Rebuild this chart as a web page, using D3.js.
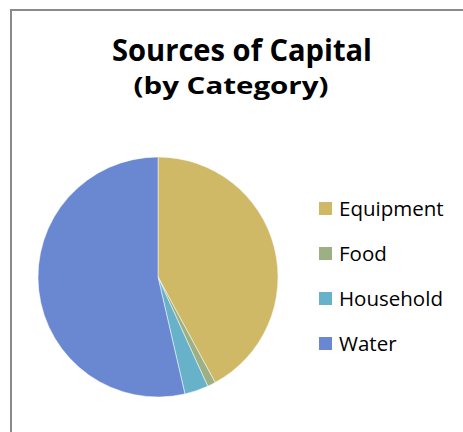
<!DOCTYPE html>
<html>
<head>
<meta charset="utf-8">
<script src="https://cdn.jsdelivr.net/npm/d3@7"></script>
<style>
  body { margin: 0; background: #fff; }
  svg { display: block; }
  text { font-family: "Open Sans", Lato, sans-serif; }
</style>
</head>
<body>
<svg width="463" height="432"></svg>
<script>
// data (percent of total)
var categories = ["Equipment", "Food", "Household", "Water"];
var values = [42.1, 1.1, 3.2, 53.6];
var colors = ["#CFB966", "#9DB083", "#67B2C9", "#6A88D1"];

var svg = d3.select("svg"),
  width = +svg.attr("width"),
  height = +svg.attr("height");

// chart border (only left and top show inside the window)
svg.append("path")
  .attr("d", "M11," + (height + 5) + "V10H" + (width + 5))
  .attr("fill", "none")
  .attr("stroke", "#8a8a8a")
  .attr("stroke-width", 2);

// squeeze/stretch a label to the width it has in the reference
function fitWidth(sel, targetW) {
  sel.attr("textLength", targetW).attr("lengthAdjust", "spacingAndGlyphs");
}

var title = svg.append("text")
  .attr("x", 242).attr("y", 61)
  .attr("text-anchor", "middle")
  .attr("font-weight", "bold")
  .attr("font-size", 30)
  .text("Sources of Capital");
fitWidth(title, 260);

var sub = svg.append("text")
  .attr("x", 231).attr("y", 94)
  .attr("text-anchor", "middle")
  .attr("font-weight", "bold")
  .attr("font-size", 23.5)
  .text("(by Category)");
fitWidth(sub, 195);

// pie
var cx = 158, cy = 277, r = 120;
var pie = d3.pie().sort(null).value(function(d) { return d; });
var arc = d3.arc().innerRadius(0).outerRadius(r);
var color = d3.scaleOrdinal().domain(categories).range(colors);

svg.append("g")
  .attr("transform", "translate(" + cx + "," + cy + ")")
  .selectAll("path")
  .data(pie(values))
  .join("path")
  .attr("d", arc)
  .attr("fill", function(d, i) { return color(categories[i]); })
  .attr("stroke", "#fff")
  .attr("stroke-width", 0.5);

// legend
var ly = d3.scalePoint().domain(categories).range([209, 344]);
var legend = svg.append("g").selectAll("g")
  .data(categories)
  .join("g")
  .attr("transform", function(d) { return "translate(319," + ly(d) + ")"; });

legend.append("rect")
  .attr("x", 0).attr("y", -7)
  .attr("width", 13).attr("height", 13)
  .attr("fill", function(d) { return color(d); });

legend.append("text")
  .attr("x", 20).attr("y", 7)
  .attr("font-size", 20.5)
  .attr("fill", "#000")
  .text(function(d) { return d; });
</script>
</body>
</html>
